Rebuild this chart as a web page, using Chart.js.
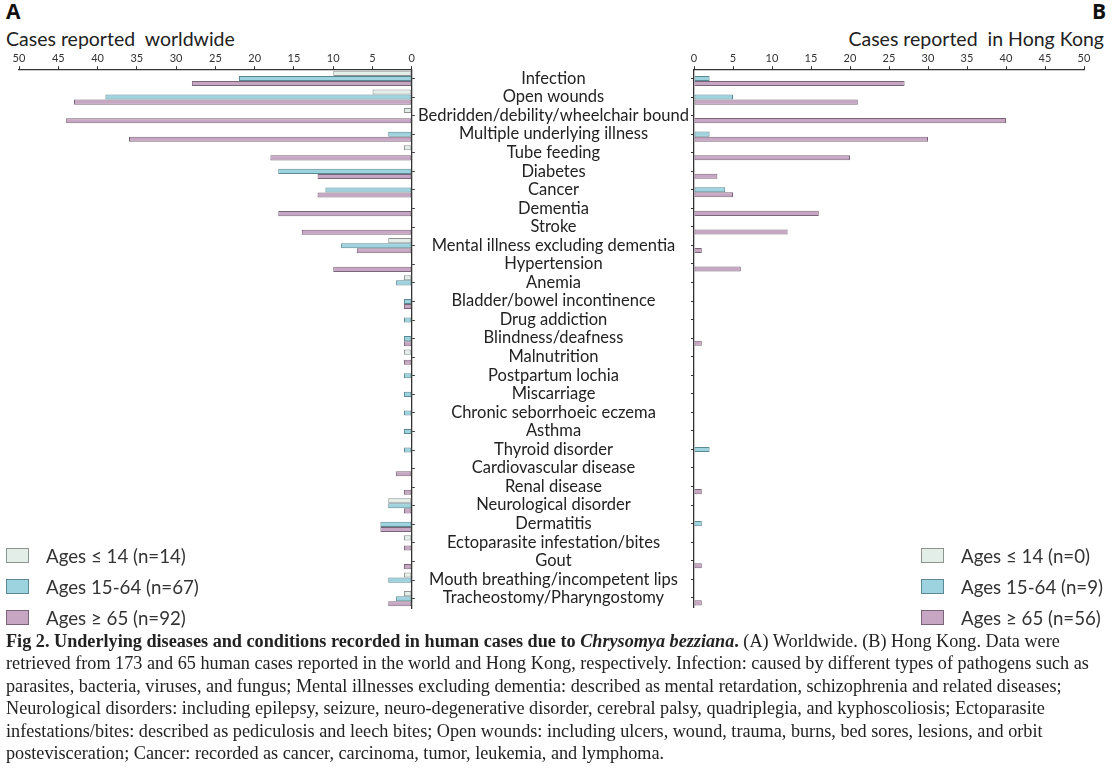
<!DOCTYPE html>
<html>
<head>
<meta charset="utf-8">
<script src="https://cdn.jsdelivr.net/npm/chart.js@4.4.0/dist/chart.umd.min.js"></script>
<style>
body { margin:0; background:#fff; width:1112px; height:779px; overflow:hidden; position:relative; font-family:Lato, sans-serif; color:#222; }
.panel { position:absolute; top:-3px; font-family:'Open Sans', sans-serif; font-weight:bold; font-size:21px; color:#111; }
.titulo { position:absolute; top:27px; font-size:19.5px; line-height:24px; color:#222; white-space:nowrap; }
#caja-mundo { position:absolute; left:0; top:0; width:416px; height:619px; }
#caja-hk { position:absolute; left:410px; top:0; width:702px; height:619px; }
.leyenda { position:absolute; top:540px; font-size:18.7px; color:#333; }
.leyenda .fila { height:31px; display:flex; align-items:center; }
.leyenda .muestra { display:inline-block; width:21px; height:13px; margin-right:17px; border:1px solid; }
.pie { position:absolute; left:6px; top:630px; font-family:'Liberation Serif', serif; font-size:18.2px; line-height:22.4px; white-space:nowrap; color:#222; }
</style>
</head>
<body>
<div class="panel" style="left:6px">A</div>
<div class="panel" style="left:1092px">B</div>
<div class="titulo" style="left:6px">Cases reported&nbsp; worldwide</div>
<div class="titulo" style="right:8px">Cases reported&nbsp; in Hong Kong</div>
<div id="caja-mundo"><canvas id="chart-mundo"></canvas></div>
<div id="caja-hk"><canvas id="chart-hk"></canvas></div>
<div class="leyenda" id="leyenda-mundo" style="left:6px"></div>
<div class="leyenda" id="leyenda-hk" style="left:921px"></div>
<div class="pie">
<b>Fig 2. Underlying diseases and conditions recorded in human cases due to <i>Chrysomya bezziana</i>.</b> (A) Worldwide. (B) Hong Kong. Data were<br>
retrieved from 173 and 65 human cases reported in the world and Hong Kong, respectively. Infection: caused by different types of pathogens such as<br>
parasites, bacteria, viruses, and fungus; Mental illnesses excluding dementia: described as mental retardation, schizophrenia and related diseases;<br>
Neurological disorders: including epilepsy, seizure, neuro-degenerative disorder, cerebral palsy, quadriplegia, and kyphoscoliosis; Ectoparasite<br>
infestations/bites: described as pediculosis and leech bites; Open wounds: including ulcers, wound, trauma, burns, bed sores, lesions, and orbit<br>
postevisceration; Cancer: recorded as cancer, carcinoma, tumor, leukemia, and lymphoma.
</div>
<script>
// Categorías (de arriba hacia abajo)
const categorias = ['Infection', 'Open wounds', 'Bedridden/debility/wheelchair bound', 'Multiple underlying illness',
    'Tube feeding', 'Diabetes', 'Cancer', 'Dementia', 'Stroke', 'Mental illness excluding dementia', 'Hypertension',
    'Anemia', 'Bladder/bowel incontinence', 'Drug addiction', 'Blindness/deafness', 'Malnutrition', 'Postpartum lochia',
    'Miscarriage', 'Chronic seborrhoeic eczema', 'Asthma', 'Thyroid disorder', 'Cardiovascular disease', 'Renal disease',
    'Neurological disorder', 'Dermatitis', 'Ectoparasite infestation/bites', 'Gout', 'Mouth breathing/incompetent lips',
    'Tracheostomy/Pharyngostomy'];

// A - casos en el mundo
const mundoMenores = [10, 5, 1, 0, 1, 0, 0, 0, 0, 3, 0, 1, 0, 0, 0, 1, 0, 0, 0, 0, 0, 0, 0, 3, 0, 1, 0, 1, 1];
const mundoAdultos = [22, 39, 0, 3, 0, 17, 11, 0, 0, 9, 0, 2, 1, 1, 1, 0, 1, 1, 1, 1, 1, 0, 0, 3, 4, 0, 0, 3, 2];
const mundoMayores = [28, 43, 44, 36, 18, 12, 12, 17, 14, 7, 10, 0, 1, 0, 1, 1, 0, 0, 0, 0, 0, 2, 1, 1, 4, 1, 1, 0, 3];

// B - casos en Hong Kong
const hkMenores = [0, 0, 0, 0, 0, 0, 0, 0, 0, 0, 0, 0, 0, 0, 0, 0, 0, 0, 0, 0, 0, 0, 0, 0, 0, 0, 0, 0, 0];
const hkAdultos = [2, 5, 0, 2, 0, 0, 4, 0, 0, 0, 0, 0, 0, 0, 0, 0, 0, 0, 0, 0, 2, 0, 0, 0, 1, 0, 0, 0, 0];
const hkMayores = [27, 21, 40, 30, 20, 3, 5, 16, 12, 1, 6, 0, 0, 0, 1, 0, 0, 0, 0, 0, 0, 0, 1, 0, 0, 0, 1, 0, 1];

const leyendaMundo = ['Ages \u2264 14 (n=14)', 'Ages 15-64 (n=67)', 'Ages \u2265 65 (n=92)'];
const leyendaHK = ['Ages \u2264 14 (n=0)', 'Ages 15-64 (n=9)', 'Ages \u2265 65 (n=56)'];

// Eje de casos: 0 .. 50 cada 5
const ejeMin = 0;
const ejeMax = 50;
const ejePaso = 5;

const rellenos = ['#e4eee9', '#9dd3df', '#c7a6c3'];
const bordes = ['#8d9490', '#5a8893', '#7a6478'];
const colorEje = '#333333';
const fuente = 'Lato, sans-serif';

function crearDatasets(series, etiquetas) {
    return series.map((datos, i) => ({
        label: etiquetas[i],
        data: datos,
        backgroundColor: rellenos[i],
        borderColor: bordes[i],
        borderWidth: 1,
        borderSkipped: false,
        categoryPercentage: 0.82,
        barPercentage: 1.0
    }));
}

function ejeX(invertido) {
    return {
        type: 'linear',
        position: 'top',
        min: ejeMin,
        max: ejeMax,
        reverse: invertido,
        ticks: { stepSize: ejePaso, color: colorEje, font: { family: fuente, size: 11 }, padding: 1 },
        grid: { drawOnChartArea: false, drawTicks: true, tickLength: 3, color: colorEje },
        border: { color: colorEje, width: 1.3 }
    };
}

// márgenes comunes: arriba deja sitio al título, abajo a la media etiqueta
const margen = { top: 51, bottom: 11 };

Chart.defaults.animation = false;

// Gráfica A (mundo) - eje invertido
new Chart(document.getElementById('chart-mundo'), {
    type: 'bar',
    data: { labels: categorias, datasets: crearDatasets([mundoMenores, mundoAdultos, mundoMayores], leyendaMundo) },
    options: {
        indexAxis: 'y',
        responsive: true,
        maintainAspectRatio: false,
        layout: { padding: { left: 19, right: 0, top: margen.top, bottom: margen.bottom } },
        scales: {
            x: ejeX(true),
            y: {
                position: 'right',
                ticks: { display: false },
                grid: { drawOnChartArea: false, tickLength: 3, offset: false, color: colorEje },
                border: { color: colorEje, width: 1.3 }
            }
        },
        plugins: { legend: { display: false }, tooltip: { enabled: false } }
    }
});

// Gráfica B (Hong Kong) - con las etiquetas de categoría en el centro
new Chart(document.getElementById('chart-hk'), {
    type: 'bar',
    data: { labels: categorias, datasets: crearDatasets([hkMenores, hkAdultos, hkMayores], leyendaHK) },
    options: {
        indexAxis: 'y',
        responsive: true,
        maintainAspectRatio: false,
        layout: { padding: { left: 0, right: 28, top: margen.top, bottom: margen.bottom } },
        scales: {
            x: ejeX(false),
            y: {
                position: 'left',
                afterFit: (scale) => { scale.width = 284; },
                ticks: { crossAlign: 'center', padding: 2, color: '#222', font: { family: fuente, size: 16.5 }, autoSkip: false },
                grid: { drawOnChartArea: false, tickLength: 3, offset: false, color: colorEje },
                border: { color: colorEje, width: 1.3 }
            }
        },
        plugins: { legend: { display: false }, tooltip: { enabled: false } }
    }
});

function pintarLeyenda(id, etiquetas) {
    const cont = document.getElementById(id);
    etiquetas.forEach((texto, i) => {
        const fila = document.createElement('div');
        fila.className = 'fila';
        fila.innerHTML = `<span class="muestra" style="background:${rellenos[i]};border-color:${bordes[i]}"></span>${texto}`;
        cont.appendChild(fila);
    });
}
pintarLeyenda('leyenda-mundo', leyendaMundo);
pintarLeyenda('leyenda-hk', leyendaHK);
</script>
</body>
</html>
